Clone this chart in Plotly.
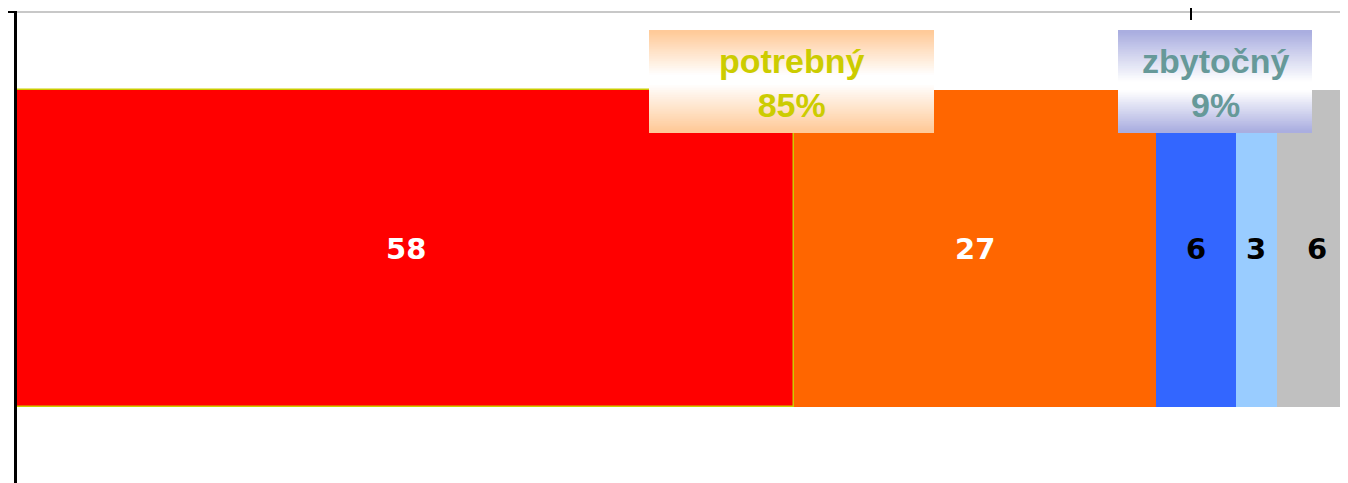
import plotly.graph_objects as go

# ---- data ----
categories = ["a", "b", "c", "d", "e"]
values = [58, 27, 6, 3, 6]
bar_colors = ["#ff0000", "#ff6600", "#3366ff", "#99ccff", "#c0c0c0"]
label_colors = ["white", "white", "black", "black", "black"]
group_labels = ["potrebný<br>85%", "zbytočný<br>9%"]

# page has an 8px body margin; compensate
OFF = 8
PLOT_L, PLOT_T, PLOT_R, PLOT_B = 17, 12, 1348, 483   # plot area in page pixels
W, H = PLOT_R - OFF, PLOT_B - OFF
ML, MT, MR, MB = PLOT_L - OFF, PLOT_T - OFF, 0, 0
PW, PH = PLOT_R - PLOT_L, PLOT_B - PLOT_T
XMAX = 99.33

fig = go.Figure()
base = 0
for i, (c, v) in enumerate(zip(categories, values)):
    fig.add_trace(go.Bar(
        y=[0], x=[v], base=[base], orientation="h", name=c,
        width=317 / PH,
        marker=dict(color=bar_colors[i],
                    line=dict(color="#cccc00" if i == 0 else bar_colors[i], width=1.5 if i == 0 else 0)),
        showlegend=False, hoverinfo="skip",
    ))
    fig.add_annotation(x=base + v / 2, y=0, xref="x", yref="y", text=str(v),
                       showarrow=False, xanchor="center", yanchor="middle",
                       font=dict(family="DejaVu Sans", size=29, color=label_colors[i], weight="bold"))
    base += v

def px_to_paper_x(px):
    return (px - PLOT_L) / PW

def px_to_paper_y(py):
    return 1 - (py - PLOT_T) / PH

shapes = []

def gradient_box(x0, x1, y0, y1, edge_rgb, mid, n=60):
    for k in range(n):
        t0 = k / n
        t1 = (k + 1) / n
        tm = (t0 + t1) / 2
        if tm < mid:
            d = (mid - tm) / mid
        else:
            d = (tm - mid) / (1 - mid)
        d = min(1.0, max(0.0, d * 1.15 - 0.1))
        r = round(255 + (edge_rgb[0] - 255) * d)
        g = round(255 + (edge_rgb[1] - 255) * d)
        b = round(255 + (edge_rgb[2] - 255) * d)
        ya = y0 + (y1 - y0) * t0
        yb = min(y0 + (y1 - y0) * t1 + 1.0, y1)
        shapes.append(dict(type="rect", xref="paper", yref="paper",
                           x0=px_to_paper_x(x0), x1=px_to_paper_x(x1),
                           y0=px_to_paper_y(ya), y1=px_to_paper_y(yb),
                           fillcolor=f"rgb({r},{g},{b})", line=dict(width=0), layer="above"))

gradient_box(649, 934, 30, 133, (255, 202, 153), 0.48)
gradient_box(1118, 1312, 30, 133, (170, 174, 224), 0.55)

# top gray frame line
shapes.append(dict(type="line", xref="paper", yref="paper", x0=0, x1=1, y0=1, y1=1,
                   line=dict(color="#c8c8c8", width=2), layer="above"))
# small tick marks
shapes.append(dict(type="line", xref="paper", yref="paper",
                   x0=px_to_paper_x(1191), x1=px_to_paper_x(1191),
                   y0=px_to_paper_y(0), y1=px_to_paper_y(20),
                   line=dict(color="black", width=2), layer="above"))
shapes.append(dict(type="line", xref="paper", yref="paper",
                   x0=px_to_paper_x(6), x1=px_to_paper_x(17),
                   y0=1, y1=1, line=dict(color="black", width=2), layer="above"))

fig.add_annotation(x=px_to_paper_x((649 + 934) / 2), y=px_to_paper_y(83), xref="paper", yref="paper",
                   text=group_labels[0], showarrow=False, xanchor="center", yanchor="middle",
                   font=dict(family="Liberation Sans", size=34, color="#cccc00", weight="bold"))
fig.add_annotation(x=px_to_paper_x((1118 + 1312) / 2), y=px_to_paper_y(83), xref="paper", yref="paper",
                   text=group_labels[1], showarrow=False, xanchor="center", yanchor="middle",
                   font=dict(family="Liberation Sans", size=34, color="#669999", weight="bold"))

frac_bottom = (PLOT_B - 248.5) / PH
fig.update_layout(
    width=W, height=H,
    margin=dict(l=ML, r=MR, t=MT, b=MB, pad=0),
    barmode="overlay", bargap=0,
    paper_bgcolor="white", plot_bgcolor="white",
    shapes=shapes,
    xaxis=dict(range=[0, XMAX], showgrid=False, zeroline=False, showticklabels=False,
               showline=False, fixedrange=True),
    yaxis=dict(range=[-frac_bottom, 1 - frac_bottom], showgrid=False, zeroline=False,
               showticklabels=False, showline=True, linecolor="black", linewidth=2.5,
               fixedrange=True),
)
fig.write_html("out.html")
